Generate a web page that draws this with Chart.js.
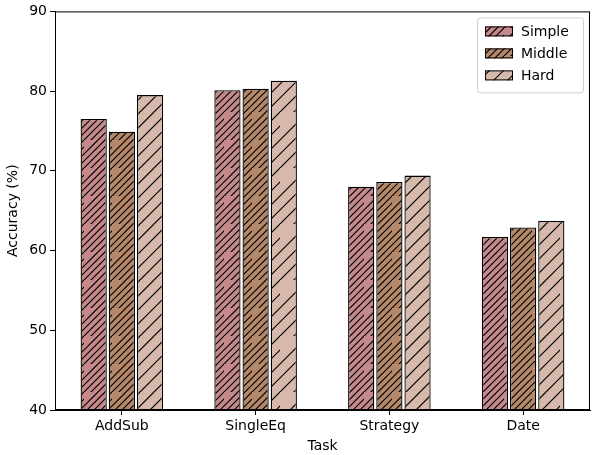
<!DOCTYPE html>
<html>
<head>
<meta charset="utf-8">
<script src="https://cdn.jsdelivr.net/npm/chart.js@4/dist/chart.umd.min.js"></script>
<style>
  html, body { margin: 0; padding: 0; background: #fff; }
  #wrap { width: 592px; height: 455px; }
</style>
</head>
<body>
<div id="wrap"><canvas id="taskChart" width="592" height="455"></canvas></div>
<script>
// values
var tasks = ['AddSub', 'SingleEq', 'Strategy', 'Date'];
var simpleAcc = [76.5, 80.1, 68.0, 61.7];
var middleAcc = [74.9, 80.3, 68.6, 62.9];
var hardAcc = [79.5, 81.3, 69.4, 63.7];
var yTicks = [40, 50, 60, 70, 80, 90];

var FONT = "'DejaVu Sans', sans-serif";

// diagonal hatch like matplotlib '//' and '/'
function hatch(color, step) {
    var size = step * 4;
    var c = document.createElement('canvas');
    c.width = size;
    c.height = size;
    var g = c.getContext('2d');
    g.fillStyle = color;
    g.fillRect(0, 0, size, size);
    g.strokeStyle = '#000';
    g.lineWidth = 1.2;
    g.beginPath();
    for (var k = -2; k <= 10; k++) {
        var s = k * step;
        g.moveTo(s - size, 2 * size);
        g.lineTo(s + size, 0);
    }
    g.stroke();
    return g.createPattern(c, 'repeat');
}

var frame = {
    id: 'frame',
    afterDraw: function (chart) {
        var a = chart.chartArea, ctx = chart.ctx;
        ctx.save();
        ctx.strokeStyle = '#000';
        ctx.lineWidth = 1;
        ctx.strokeRect(a.left + 0.5, a.top + 0.5, a.right - a.left - 1, a.bottom - a.top - 1);

        // legend box in the upper right, like matplotlib
        var bx = a.right - 113, by = a.top + 6, bw = 106, bh = 75;
        ctx.fillStyle = 'rgba(255,255,255,0.8)';
        ctx.strokeStyle = '#d0d0d0';
        ctx.beginPath();
        ctx.roundRect(bx + 0.5, by + 0.5, bw, bh, 3);
        ctx.fill();
        ctx.stroke();
        ctx.font = '14px ' + FONT;
        ctx.textBaseline = 'middle';
        chart.data.datasets.forEach(function (ds, i) {
            var ry = by + 14 + i * 22;
            ctx.fillStyle = ds.backgroundColor;
            ctx.fillRect(bx + 8, ry - 5, 28, 10);
            ctx.strokeStyle = '#000';
            ctx.strokeRect(bx + 8.5, ry - 4.5, 27, 9);
            ctx.fillStyle = '#000';
            ctx.fillText(ds.label, bx + 44, ry + 1);
        });
        ctx.restore();
    }
};

var ctx = document.getElementById('taskChart').getContext('2d');

var taskChart = new Chart(ctx, {
    type: 'bar',
    data: {
        labels: tasks,
        datasets: [{
            label: 'Simple',
            data: simpleAcc,
            backgroundColor: hatch('#c5898b', 7),
            borderColor: '#000',
            borderWidth: 1.3
        }, {
            label: 'Middle',
            data: middleAcc,
            backgroundColor: hatch('#b6886a', 7),
            borderColor: '#000',
            borderWidth: 1.3
        }, {
            label: 'Hard',
            data: hardAcc,
            backgroundColor: hatch('#d6b9ab', 14),
            borderColor: '#000',
            borderWidth: 1.3
        }]
    },
    options: {
        responsive: false,
        animation: false,
        layout: { padding: { top: 10, right: 2, left: 0, bottom: 0 } },
        datasets: {
            bar: { categoryPercentage: 0.632, barPercentage: 0.93, borderSkipped: false }
        },
        plugins: {
            legend: { display: false },
            tooltip: { enabled: false }
        },
        scales: {
            x: {
                afterFit: function (axis) { axis.height = 45; },
                grid: { display: true, offset: false, drawOnChartArea: false, drawTicks: true, tickLength: 5, color: '#000' },
                border: { color: '#000' },
                ticks: { color: '#000', font: { family: FONT, size: 14 }, padding: 3 },
                title: { display: true, text: 'Task', color: '#000', font: { family: FONT, size: 14 }, padding: { top: 1, bottom: 0 } }
            },
            y: {
                min: 40,
                max: 90,
                afterBuildTicks: function (axis) {
                    axis.ticks = yTicks.map(function (v) { return { value: v }; });
                },
                afterFit: function (axis) { axis.width = 55; },
                grid: { display: true, drawOnChartArea: false, drawTicks: true, tickLength: 5, color: '#000' },
                border: { color: '#000' },
                ticks: { color: '#000', font: { family: FONT, size: 14 }, padding: 3 },
                title: { display: true, text: 'Accuracy (%)', color: '#000', font: { family: FONT, size: 14 }, padding: { top: 5, bottom: 2 } }
            }
        }
    },
    plugins: [frame]
});
</script>
</body>
</html>
